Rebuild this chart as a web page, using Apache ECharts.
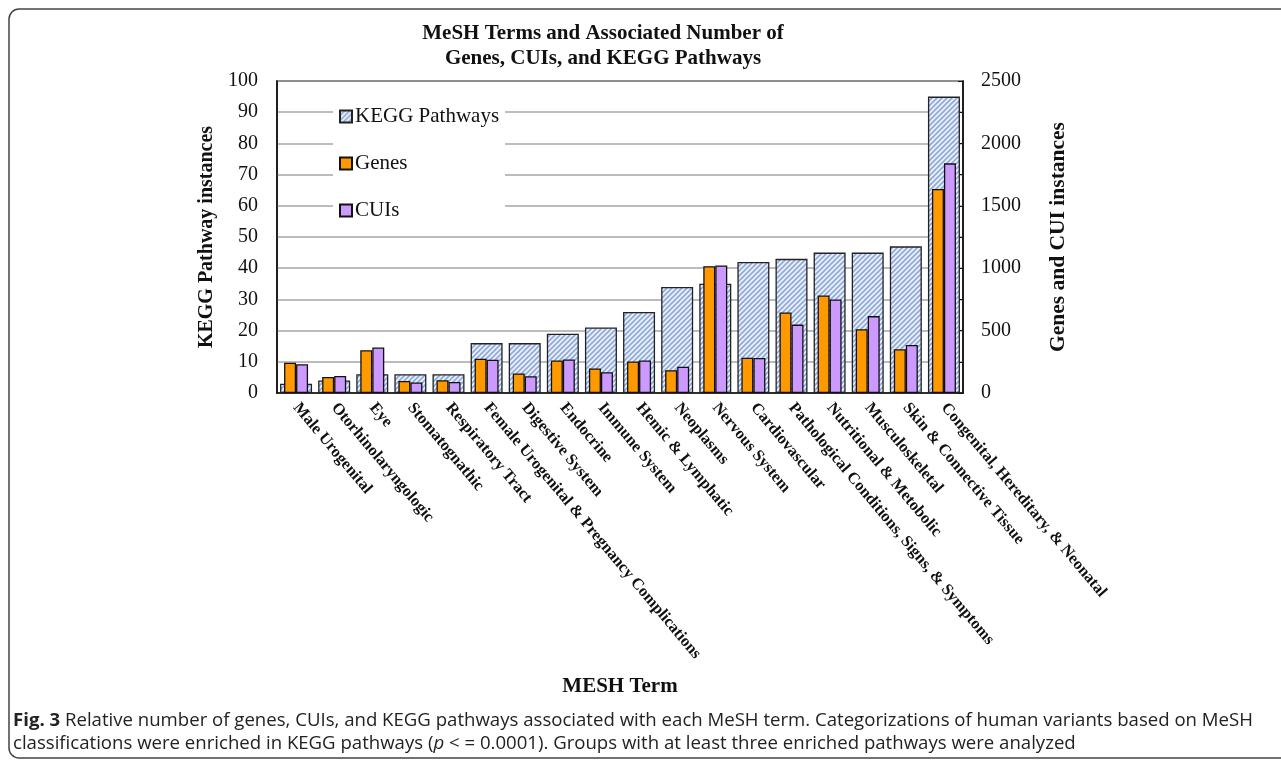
<!DOCTYPE html>
<html>
<head>
<meta charset="utf-8">
<script src="https://cdn.jsdelivr.net/npm/echarts@6/dist/echarts.min.js"></script>
<style>
  html, body { margin: 0; padding: 0; background: #fff; }
  #chart { width: 1281px; height: 764px; }
</style>
</head>
<body>
<div id="chart"></div>
<script>
const categories = [
  'Male Urogenital', 'Otorhinolaryngologic', 'Eye', 'Stomatognathic', 'Respiratory Tract',
  'Female Urogenital & Pregnancy Complications', 'Digestive System', 'Endocrine', 'Immune System',
  'Hemic & Lymphatic', 'Neoplasms', 'Nervous System', 'Cardiovascular',
  'Pathological Conditions, Signs, & Symptoms', 'Nutritional & Metobolic', 'Musculoskeletal',
  'Skin & Connective Tissue', 'Congenital, Hereditary, & Neonatal'
];
const keggPathways = [3, 4, 6, 6, 6, 16, 16, 19, 21, 26, 34, 35, 42, 43, 45, 45, 47, 95];
const genes = [242, 129, 343, 97, 102, 274, 156, 261, 197, 253, 183, 1016, 282, 645, 782, 511, 350, 1635];
const cuis = [230, 137, 365, 85, 88, 266, 135, 269, 167, 261, 210, 1022, 280, 548, 750, 616, 385, 1840];
const leftTicks = { min: 0, max: 100, interval: 10 };
const rightTicks = { min: 0, max: 2500, interval: 500 };

function makeHatch() {
  const s = 5;
  const c = document.createElement('canvas');
  c.width = s; c.height = s;
  const g = c.getContext('2d');
  g.fillStyle = '#eaf0fa';
  g.fillRect(0, 0, s, s);
  g.strokeStyle = '#8fa9d8';
  g.lineWidth = 1.6;
  g.beginPath();
  g.moveTo(0, s); g.lineTo(s, 0);
  g.moveTo(-1, 1); g.lineTo(1, -1);
  g.moveTo(s - 1, s + 1); g.lineTo(s + 1, s - 1);
  g.stroke();
  return c;
}
const hatch = { image: makeHatch(), repeat: 'repeat' };

const serif = '"Liberation Serif", "DejaVu Serif", serif';
const sans = '"Open Sans", "Noto Sans", sans-serif';
const chart = echarts.init(document.getElementById('chart'), null, { renderer: 'canvas' });

const option = {
  animation: false,
  backgroundColor: '#fff',
  title: {
    text: 'MeSH Terms and Associated Number of\nGenes, CUIs, and KEGG Pathways',
    left: 598, top: 16, textAlign: 'center',
    textStyle: { fontFamily: serif, fontWeight: 'bold', fontSize: 21, color: '#111', lineHeight: 25 }
  },
  legend: {
    orient: 'vertical',
    left: 333, top: 100,
    itemWidth: 12, itemHeight: 12, itemGap: 26,
    icon: 'rect',
    backgroundColor: '#fff',
    padding: [6, 6, 6, 6],
    textStyle: { fontFamily: serif, fontSize: 21, color: '#111', padding: [0, 0, 0, -2] },
    data: ['KEGG Pathways', 'Genes', 'CUIs']
  },
  grid: {
    left: 277, right: 318, top: 81, bottom: 371,
    show: true, borderColor: '#111', borderWidth: 1.5, backgroundColor: 'transparent'
  },
  xAxis: [
    {
      type: 'category', data: categories, gridIndex: 0,
      name: 'MESH Term', nameLocation: 'middle', nameGap: 283,
      nameTextStyle: { fontFamily: serif, fontWeight: 'bold', fontSize: 21, color: '#111' },
      axisLine: { show: true, lineStyle: { color: '#111', width: 1.5 } },
      axisTick: { show: false },
      axisLabel: {
        interval: 0, rotate: -50, margin: 12,
        fontFamily: serif, fontWeight: 'bold', fontSize: 16.3, color: '#111'
      }
    },
    {
      type: 'category', data: categories, gridIndex: 0, show: false
    }
  ],
  yAxis: [
    {
      type: 'value', min: leftTicks.min, max: leftTicks.max, interval: leftTicks.interval,
      position: 'left',
      name: 'KEGG Pathway instances', nameLocation: 'middle', nameGap: 60,
      nameTextStyle: { fontFamily: serif, fontWeight: 'bold', fontSize: 20, color: '#111' },
      axisLine: { show: true, lineStyle: { color: '#111', width: 1.5 } },
      axisTick: { show: false },
      axisLabel: { margin: 19, fontFamily: serif, fontSize: 20, color: '#111' },
      splitLine: { show: true, lineStyle: { color: '#a6a6a6', width: 1.5 } }
    },
    {
      type: 'value', min: rightTicks.min, max: rightTicks.max, interval: rightTicks.interval,
      position: 'right',
      name: 'Genes and CUI instances', nameLocation: 'middle', nameGap: 84,
      nameRotate: 90,
      nameTextStyle: { fontFamily: serif, fontWeight: 'bold', fontSize: 21.5, color: '#111' },
      axisLine: { show: true, lineStyle: { color: '#111', width: 1.5 } },
      axisTick: { show: true, inside: true, length: 5, lineStyle: { color: '#111' } },
      minorTick: { show: true, splitNumber: 2, length: 5, lineStyle: { color: '#111' } },
      axisLabel: { margin: 18, fontFamily: serif, fontSize: 20, color: '#111', formatter: v => String(v) },
      splitLine: { show: false }
    }
  ],
  series: [
    {
      name: 'KEGG Pathways', type: 'bar', xAxisIndex: 0, yAxisIndex: 0,
      data: keggPathways, barWidth: 32, z: 1,
      itemStyle: { color: hatch, borderColor: '#222', borderWidth: 1.3 }
    },
    {
      name: 'Genes', type: 'bar', xAxisIndex: 1, yAxisIndex: 1,
      data: genes, barWidth: 12, barGap: '0%', z: 3,
      itemStyle: { color: '#ff9900', borderColor: '#111', borderWidth: 1.3 }
    },
    {
      name: 'CUIs', type: 'bar', xAxisIndex: 1, yAxisIndex: 1,
      data: cuis, barWidth: 12, barGap: '0%', z: 3,
      itemStyle: { color: '#cc99ff', borderColor: '#111', borderWidth: 1.3 }
    }
  ],
  graphic: [
    {
      type: 'rect', silent: true, z: -1,
      shape: { x: 9, y: 9, width: 1300, height: 749, r: 10 },
      style: { fill: 'none', stroke: '#444', lineWidth: 1.5 }
    },
    {
      type: 'text', left: 13, top: 709,
      style: {
        text: '{b|Fig. 3} Relative number of genes, CUIs, and KEGG pathways associated with each MeSH term. Categorizations of human variants based on MeSH\nclassifications were enriched in KEGG pathways ({i|p} < = 0.0001). Groups with at least three enriched pathways were analyzed',
        fontFamily: sans,
        fontSize: 18.6, lineHeight: 23, fill: '#222',
        rich: {
          b: { fontWeight: 'bold', fontFamily: sans, fontSize: 18.6, fill: '#222' },
          i: { fontStyle: 'italic', fontFamily: sans, fontSize: 18.6, fill: '#222' }
        }
      }
    }
  ]
};
chart.setOption(option);
</script>
</body>
</html>
